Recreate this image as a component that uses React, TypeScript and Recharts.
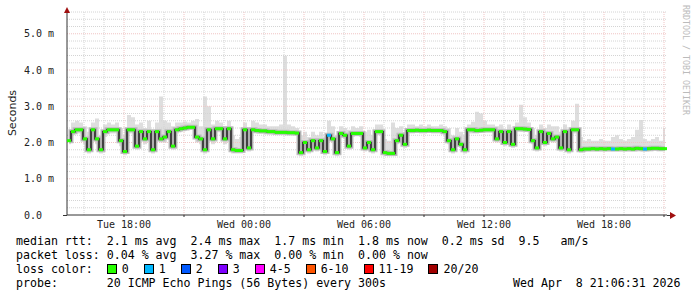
import { ComposedChart, Area, Line, XAxis, YAxis, ReferenceLine } from "recharts";

// one value per 12 minutes, Tue 15:09 -> Wed 21:09 (ms)
const medianRtt = [
  2.05, 2.3, 2.35, 2.35, 2.1, 1.8, 2.35, 2.1, 1.8, 2.3,
  2.35, 2.35, 2.35, 2.05, 1.75, 2.35, 2.35, 1.9, 2.3, 2.1,
  2.3, 1.8, 2.3, 2.1, 2.15, 2.3, 1.9, 2.35, 2.38, 2.4,
  2.42, 2.42, 2.15, 2.1, 1.8, 2.35, 2.1, 2.38, 2.38, 2.1,
  2.38, 1.8, 1.78, 1.78, 2.35, 1.85, 2.35, 2.33, 2.32, 2.32,
  2.3, 2.3, 2.28, 2.28, 2.28, 2.27, 2.27, 2.26, 1.72, 2.0,
  1.8, 2.05, 1.85, 2.05, 1.75, 2.2, 2.1, 1.72, 2.25, 2.2,
  1.9, 2.25, 2.25, 2.25, 1.85, 2.0, 1.8, 2.3, 2.3, 1.72,
  1.7, 1.7, 2.05, 2.2, 1.95, 2.33, 2.33, 2.34, 2.33, 2.33,
  2.34, 2.33, 2.33, 2.33, 2.3, 2.05, 1.8, 2.1, 1.95, 1.8,
  2.35, 2.35, 2.33, 2.34, 2.35, 2.35, 2.35, 2.1, 2.3, 2.0,
  2.3, 1.95, 2.38, 2.38, 2.37, 2.36, 2.05, 1.85, 2.3, 2.0,
  2.25, 2.1, 2.15, 1.85, 2.3, 1.8, 2.35, 2.35, 1.8, 1.82,
  1.82, 1.83, 1.82, 1.83, 1.82, 1.83, 1.82, 1.82, 1.83, 1.82,
  1.83, 1.82, 1.84, 1.83, 1.82, 1.83, 1.84, 1.84, 1.83, 1.83,
];

const maxRtt = [
  2.3, 2.55, 2.6, 2.55, 2.45, 2.3, 2.55, 2.66, 2.2, 2.5,
  2.55, 2.5, 2.55, 2.4, 2.2, 2.76, 2.7, 2.5, 2.55, 2.4,
  2.6, 2.3, 2.55, 3.27, 2.6, 2.55, 2.45, 2.55, 2.55, 2.58,
  2.55, 2.6, 2.65, 2.45, 3.27, 3.0, 2.5, 2.6, 2.55, 2.45,
  2.6, 2.2, 2.1, 2.15, 2.55, 2.4, 2.6, 2.55, 2.5, 2.5,
  2.45, 2.45, 2.45, 2.5, 4.39, 2.5, 2.45, 2.4, 2.2, 2.3,
  2.15, 2.3, 2.2, 2.3, 2.15, 2.6, 2.45, 2.2, 2.45, 2.4,
  2.35, 2.45, 2.4, 2.45, 2.3, 2.35, 2.2, 2.5, 2.5, 2.1,
  2.05, 2.55, 2.4, 2.45, 2.3, 2.5, 2.5, 2.45, 2.5, 2.45,
  2.5, 2.45, 2.45, 2.5, 2.45, 2.4, 2.2, 2.4, 2.3, 2.2,
  2.5, 2.57, 2.85, 2.8, 2.6, 2.5, 2.5, 2.45, 2.5, 2.35,
  2.5, 2.35, 2.55, 3.04, 2.7, 2.55, 2.4, 2.2, 2.5, 2.4,
  2.5, 2.45, 2.45, 2.3, 2.5, 2.25, 2.6, 3.07, 2.15, 2.05,
  2.1, 2.05, 2.05, 2.1, 2.05, 2.05, 2.15, 2.2, 2.1, 2.05,
  2.1, 2.15, 2.35, 2.62, 2.1, 2.05, 2.1, 2.15, 2.05, 2.4,
];

const minRtt = [
  1.95, 2.2, 2.25, 2.25, 1.95, 1.7, 2.2, 1.95, 1.7, 2.15,
  2.25, 2.25, 2.25, 1.9, 1.65, 2.25, 2.25, 1.8, 2.2, 1.95,
  2.2, 1.7, 2.2, 2.0, 2.0, 2.2, 1.8, 2.25, 2.3, 2.32,
  2.35, 2.35, 2.0, 1.95, 1.7, 2.25, 1.95, 2.28, 2.28, 1.95,
  2.25, 1.7, 1.7, 1.7, 2.2, 1.75, 2.25, 2.25, 2.24, 2.24,
  2.22, 2.22, 2.2, 2.2, 2.2, 2.19, 2.19, 2.18, 1.62, 1.9,
  1.7, 1.95, 1.75, 1.95, 1.65, 2.1, 2.0, 1.62, 2.15, 2.1,
  1.8, 2.15, 2.17, 2.15, 1.75, 1.9, 1.7, 2.2, 2.2, 1.64,
  1.62, 1.62, 1.95, 2.1, 1.85, 2.25, 2.25, 2.26, 2.25, 2.25,
  2.26, 2.25, 2.25, 2.25, 2.2, 1.95, 1.7, 2.0, 1.85, 1.7,
  2.25, 2.25, 2.25, 2.26, 2.27, 2.27, 2.27, 2.0, 2.2, 1.9,
  2.2, 1.85, 2.3, 2.3, 2.29, 2.28, 1.95, 1.75, 2.2, 1.9,
  2.15, 2.0, 2.05, 1.75, 2.2, 1.7, 2.25, 2.25, 1.72, 1.75,
  1.76, 1.77, 1.76, 1.77, 1.76, 1.77, 1.76, 1.76, 1.77, 1.76,
  1.77, 1.76, 1.78, 1.77, 1.76, 1.77, 1.78, 1.78, 1.77, 1.77,
];

// samples that lost 1 of 20 pings
const oneLossAt = [65, 136, 144];

const startHour = 15.15;
const stepHours = 0.2;
const endHour = 45.15;

const xTicks = [18, 21, 24, 27, 30, 33, 36, 39, 42, 45];
const xTickLabels: Record<number, string> = {
  18: "Tue 18:00",
  24: "Wed 00:00",
  30: "Wed 06:00",
  36: "Wed 12:00",
  42: "Wed 18:00",
};
const yTicks = [0, 1, 2, 3, 4, 5];

const lossLegend = [
  { label: "0", color: "#26ff00" },
  { label: "1", color: "#00b8ff" },
  { label: "2", color: "#0059ff" },
  { label: "3", color: "#7e00ff" },
  { label: "4-5", color: "#ff00ff" },
  { label: "6-10", color: "#ff5500" },
  { label: "11-19", color: "#ff0000" },
  { label: "20/20", color: "#a10000" },
];

const rows = medianRtt.map((m, i) => ({
  t: startHour + stepHours * (i + 0.5),
  median: m,
  smoke: [minRtt[i], maxRtt[i]],
  loss: oneLossAt.includes(i) ? 1 : 0,
}));

// grid positions
const minorH: number[] = [];
for (let v = 0.2; v < 5.65; v += 0.2) {
  if (Math.abs(v - Math.round(v)) > 0.01) minorH.push(+v.toFixed(1));
}
const majorH = [1, 2, 3, 4, 5];
const minorV: number[] = [];
for (let h = 16; h <= 45; h++) if (h % 3 !== 0) minorV.push(h);
const majorV = xTicks;

const mono = "'DejaVu Sans Mono', monospace";

function renderDot(props: any) {
  const { cx, cy, payload, index } = props;
  if (cx == null || cy == null) return <g key={`d${index}`} />;
  return (
    <rect
      key={`d${index}`}
      x={cx - 2}
      y={cy - 1.5}
      width={4}
      height={3}
      fill={payload.loss ? "#00b8ff" : "#26ff00"}
    />
  );
}

function YTick(props: any) {
  const { x, y, payload } = props;
  const v = payload.value as number;
  const label = v === 0 ? "0.0  " : `${v.toFixed(1)} m`;
  return (
    <text
      x={x}
      y={y}
      dy={3.5}
      textAnchor="end"
      xmlSpace="preserve"
      fontFamily={mono}
      fontSize={10}
      fill="#222"
    >
      {label}
    </text>
  );
}

export default function App() {
  return (
    <div
      style={{
        position: "absolute",
        left: 0,
        top: 0,
        width: 697,
        height: 297,
        background: "#fff",
        overflow: "hidden",
      }}
    >
      <ComposedChart
        width={697}
        height={297}
        data={rows}
        margin={{ top: 12, right: 30, bottom: 62, left: 0 }}
      >
        {minorH.map((v) => (
          <ReferenceLine key={`mh${v}`} y={v} stroke="#d4d4d4" strokeDasharray="1 1" />
        ))}
        {minorV.map((h) => (
          <ReferenceLine key={`mv${h}`} x={h} stroke="#d4d4d4" strokeDasharray="1 1" />
        ))}
        {majorH.map((v) => (
          <ReferenceLine key={`Mh${v}`} y={v} stroke="#f0c4c4" strokeDasharray="1 1" />
        ))}
        {majorV.map((h) => (
          <ReferenceLine key={`Mv${h}`} x={h} stroke="#f0c4c4" strokeDasharray="1 1" />
        ))}

        <XAxis
          dataKey="t"
          type="number"
          domain={[startHour, endHour]}
          ticks={xTicks}
          tickFormatter={(h: number) => xTickLabels[h] ?? ""}
          height={20}
          stroke="#333"
          tickSize={2}
          tickMargin={4}
          tick={{ fontFamily: mono, fontSize: 10, fill: "#222" }}
          allowDataOverflow
        />
        <YAxis
          type="number"
          domain={[0, 5.6]}
          ticks={yTicks}
          width={67}
          stroke="#333"
          tickLine={false}
          tick={<YTick />}
          tickMargin={7}
          allowDataOverflow
        />

        <Area
          dataKey="smoke"
          type="step"
          fill="#dedede"
          fillOpacity={1}
          stroke="none"
          isAnimationActive={false}
        />
        <Line
          dataKey="median"
          type="step"
          stroke="#bdbdbd"
          strokeWidth={5}
          dot={false}
          isAnimationActive={false}
        />
        <Line
          dataKey="median"
          type="step"
          stroke="#8a8a8a"
          strokeWidth={2.5}
          dot={false}
          isAnimationActive={false}
        />
        <Line
          dataKey="median"
          type="step"
          stroke="#111"
          strokeWidth={1.2}
          dot={renderDot}
          isAnimationActive={false}
        />
      </ComposedChart>

      {/* axis arrows */}
      <svg
        width={697}
        height={297}
        style={{ position: "absolute", left: 0, top: 0, pointerEvents: "none" }}
      >
        <line x1={63} y1={215.5} x2={67} y2={215.5} stroke="#333" />
        <line x1={667} y1={215.5} x2={671} y2={215.5} stroke="#333" />
        <polygon points="64,13 70,13 67,7" fill="#a01010" />
        <polygon points="670,212 670,219 676,215.5" fill="#a01010" />
      </svg>

      <div
        style={{
          position: "absolute",
          left: 5,
          top: 113,
          transform: "translate(0, -50%) rotate(-90deg)",
          transformOrigin: "center",
          fontFamily: "'DejaVu Sans', sans-serif",
          fontSize: 11,
          color: "#222",
          width: 14,
          display: "flex",
          justifyContent: "center",
          whiteSpace: "nowrap",
        }}
      >
        Seconds
      </div>

      <div
        style={{
          position: "absolute",
          left: 681,
          top: 5,
          writingMode: "vertical-rl",
          fontFamily: mono,
          fontSize: 8.3,
          color: "#bbb",
          whiteSpace: "pre",
        }}
      >
        RRDTOOL / TOBI OETIKER
      </div>

      <div
        style={{
          position: "absolute",
          left: 16,
          top: 234,
          fontFamily: mono,
          fontSize: 11.6,
          lineHeight: "14px",
          color: "#000",
          whiteSpace: "pre",
        }}
      >
        <div>{"median rtt:  2.1 ms avg  2.4 ms max  1.7 ms min  1.8 ms now  0.2 ms sd  9.5   am/s"}</div>
        <div>{"packet loss: 0.04 % avg  3.27 % max  0.00 % min  0.00 % now"}</div>
        <div style={{ display: "flex", alignItems: "center" }}>
          <span>{"loss color:  "}</span>
          {lossLegend.map((l) => (
            <span key={l.label} style={{ display: "flex", alignItems: "center", marginRight: 15 }}>
              <span
                style={{
                  display: "inline-block",
                  width: 8,
                  height: 8,
                  border: "1px solid #000",
                  background: l.color,
                  marginRight: 5,
                }}
              />
              <span>{l.label}</span>
            </span>
          ))}
        </div>
        <div>{"probe:       20 ICMP Echo Pings (56 Bytes) every 300s"}</div>
      </div>
      <div
        style={{
          position: "absolute",
          left: 513,
          top: 276,
          fontFamily: mono,
          fontSize: 11.6,
          lineHeight: "14px",
          color: "#000",
          whiteSpace: "pre",
        }}
      >
        {"Wed Apr  8 21:06:31 2026"}
      </div>
    </div>
  );
}
